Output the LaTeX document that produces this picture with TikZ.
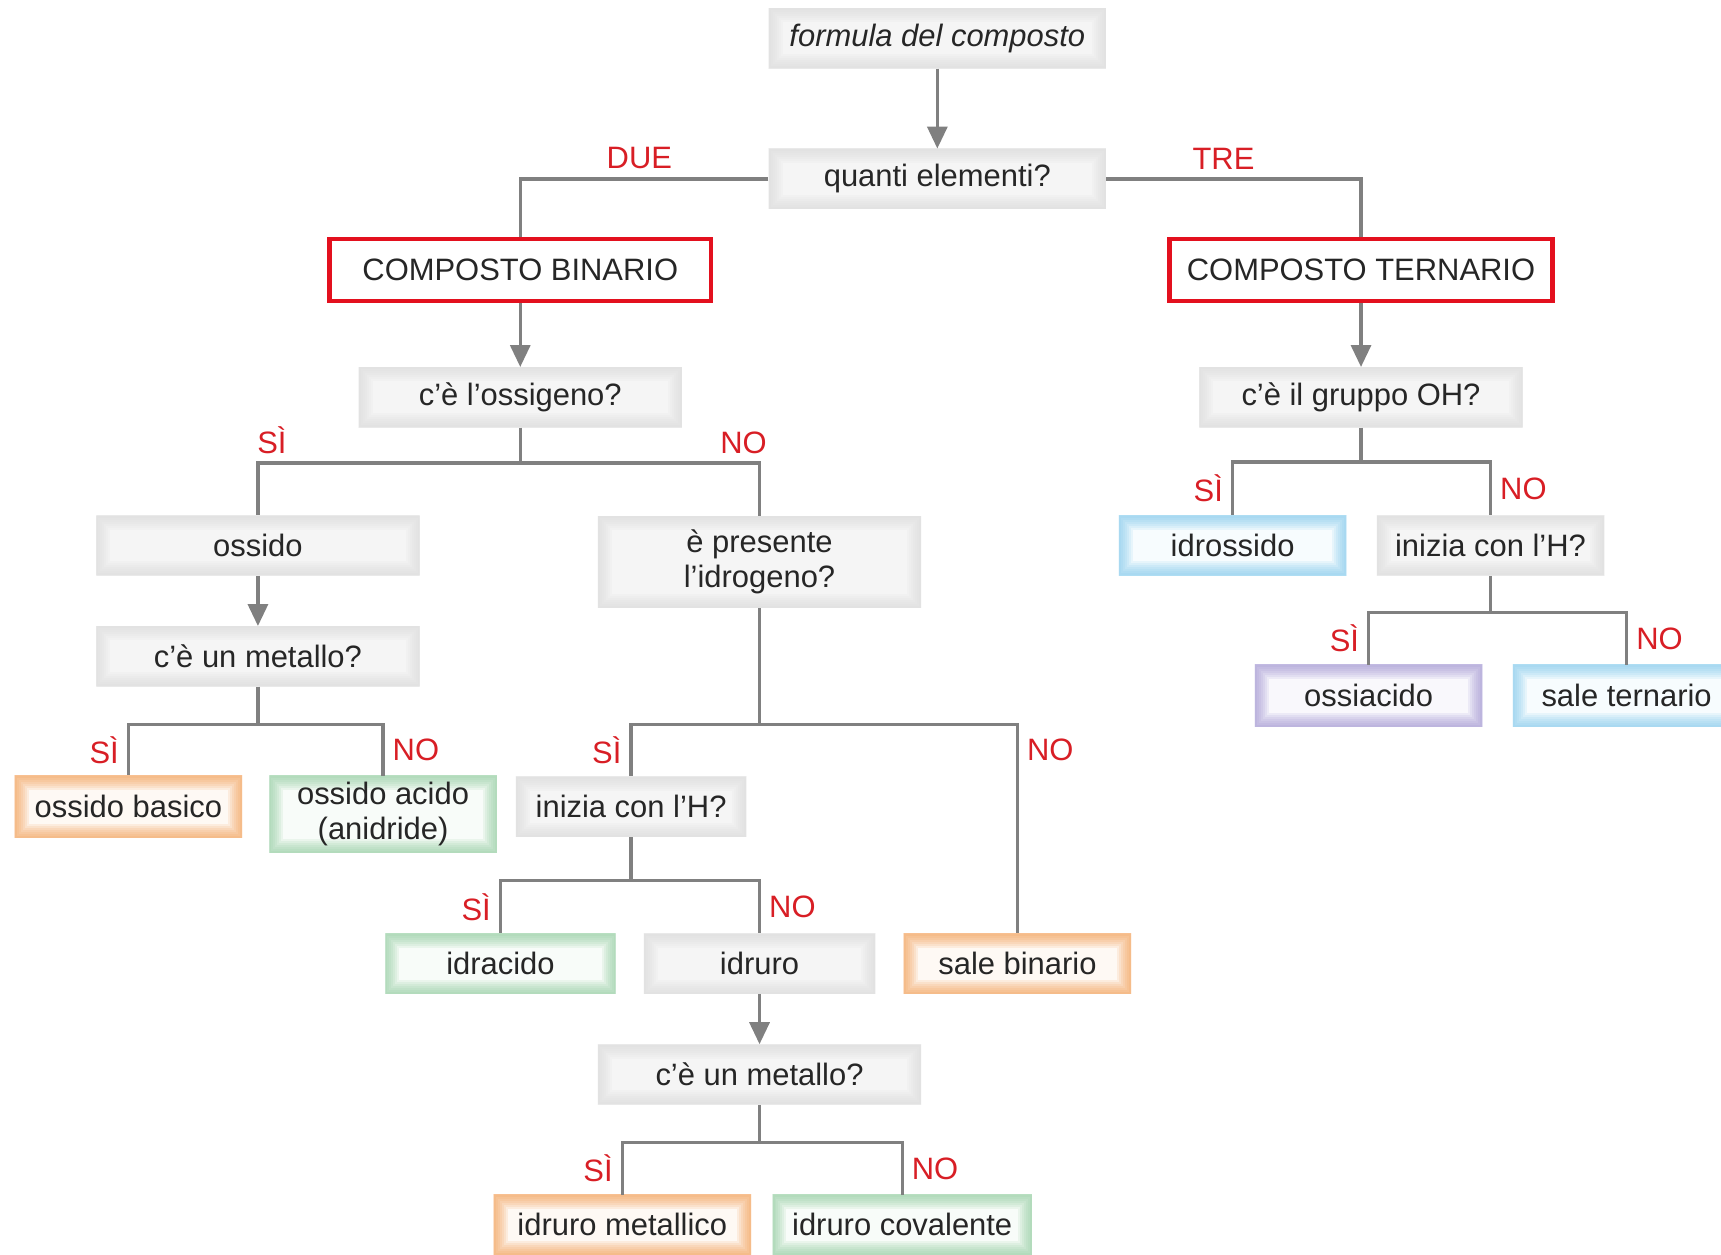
\documentclass[tikz,border=0pt]{standalone}
\usepackage{fontspec}
\setmainfont{Liberation Sans}
\usetikzlibrary{arrows.meta}

\definecolor{redline}{HTML}{E3101E}
\definecolor{labelred}{HTML}{D81E25}
\definecolor{linkgray}{HTML}{808080}
\definecolor{ink}{HTML}{262626}
\definecolor{boxorange}{HTML}{F39A4E}
\definecolor{boxgreen}{HTML}{8CCB9B}
\definecolor{boxblue}{HTML}{7CC8EC}
\definecolor{boxviolet}{HTML}{9C90D0}

\begin{document}
\begin{tikzpicture}[x=0.55pt, y=-0.55pt,
  box/.style={rectangle, minimum width=114pt, minimum height=30pt, inner sep=1pt,
    align=center, text=ink, font=\fontsize{15.5}{17.5}\selectfont},
  wide/.style={box, minimum width=162pt},
  glow/.style={path picture={
    \foreach \w in {2,4,6,8,10,12,14}
      \draw [#1, opacity=0.13, line width=\w pt] (path picture bounding box.south west)
        rectangle (path picture bounding box.north east);}},
  ask/.style={fill=black!4, glow=black!14},
  redbox/.style={box, draw=redline, line width=2.2pt, fill=white, minimum height=31pt},
  orangebox/.style={box, fill=boxorange!6, glow=boxorange},
  greenbox/.style={box, fill=boxgreen!6, glow=boxgreen},
  bluebox/.style={box, fill=boxblue!6, glow=boxblue},
  violetbox/.style={box, fill=boxviolet!6, glow=boxviolet},
  link/.style={draw=linkgray, line width=1.7pt},
  arrow/.style={link, -{Triangle[length=11pt, width=10pt]}},
  answer/.style={text=labelred, font=\fontsize{15.5}{17}\selectfont, inner sep=4pt},
  siword/.style={answer, pos=0.75, left},
  noword/.style={answer, pos=0.75, right}]

\useasboundingbox (0,0) rectangle (1568,1143);

% domande e risposte
\node [wide, ask, minimum width=169pt, font=\fontsize{15.5}{17.5}\selectfont\itshape] (formula) at (854,35) {formula del composto};
\node [wide, ask, minimum width=169pt] (quanti) at (854,163) {quanti elementi?};
\node [redbox, minimum width=191pt] (binario) at (474,246) {COMPOSTO BINARIO};
\node [redbox, minimum width=192pt] (ternario) at (1240,246) {COMPOSTO TERNARIO};
\node [wide, ask] (ossigeno) at (474,362) {c’è l’ossigeno?};
\node [wide, ask] (gruppo) at (1240,362) {c’è il gruppo OH?};
\node [wide, ask] (ossido) at (235,497) {ossido};
\node [wide, ask] (metalloA) at (235,598) {c’è un metallo?};
\node [wide, ask, minimum height=46pt] (presente) at (692,512) {è presente\\l’idrogeno?};
\node [orangebox, minimum height=31pt] (basico) at (117,735) {ossido basico};
\node [greenbox, minimum height=38.5pt] (acido) at (349,742) {ossido acido\\(anidride)};
\node [box, ask, minimum width=115.5pt] (iniziaA) at (575,735) {inizia con l’H?};
\node [greenbox, minimum width=115.5pt] (idracido) at (456,878) {idracido};
\node [box, ask, minimum width=116pt] (idruro) at (692,878) {idruro};
\node [orangebox] (salebin) at (927,878) {sale binario};
\node [wide, ask] (metalloB) at (692,979) {c’è un metallo?};
\node [orangebox, minimum width=129pt] (metallico) at (567,1116) {idruro metallico};
\node [greenbox, minimum width=130pt] (covalente) at (822,1116) {idruro covalente};
\node [bluebox] (idrossido) at (1123,497) {idrossido};
\node [box, ask] (iniziaB) at (1358,497) {inizia con l’H?};
\node [violetbox, minimum height=31pt] (ossiacido) at (1247,634) {ossiacido};
\node [bluebox, minimum height=31pt] (saleter) at (1482,634) {sale ternario};

% punti di diramazione
\coordinate (f1) at (474,422);
\coordinate (f2) at (235,660);
\coordinate (f3) at (692,660);
\coordinate (f4) at (575,802);
\coordinate (f5) at (692,1041);
\coordinate (f6) at (1240,421);
\coordinate (f7) at (1358,558);

\draw [arrow] (formula) -- (quanti);
\draw [link] (quanti.west) -| node [answer, pos=0.26, above] {DUE} (binario.north);
\draw [link] (quanti.east) -| node [answer, pos=0.23, above] {TRE} (ternario.north);
\draw [arrow] (binario) -- (ossigeno);
\draw [arrow] (ternario) -- (gruppo);

\draw [link] (ossigeno) -- (f1);
\draw [link] (f1) -| node [answer, pos=0.5, above, xshift=7pt] {SÌ} (ossido.north);
\draw [link] (f1) -| node [answer, pos=0.5, above, xshift=-8pt] {NO} (presente.north);
\draw [arrow] (ossido) -- (metalloA);

\draw [link] (metalloA) -- (f2);
\draw [link] (f2) -| node [siword] {SÌ} (basico.north);
\draw [link] (f2) -| node [noword] {NO} (acido.north);

\draw [link] (presente) -- (f3);
\draw [link] (f3) -| node [siword] {SÌ} (iniziaA.north);
\draw [link] (f3) -| node [noword, pos=0.56] {NO} (salebin.north);

\draw [link] (iniziaA) -- (f4);
\draw [link] (f4) -| node [siword] {SÌ} (idracido.north);
\draw [link] (f4) -| node [noword] {NO} (idruro.north);
\draw [arrow] (idruro) -- (metalloB);

\draw [link] (metalloB) -- (f5);
\draw [link] (f5) -| node [siword] {SÌ} (metallico.north);
\draw [link] (f5) -| node [noword] {NO} (covalente.north);

\draw [link] (gruppo) -- (f6);
\draw [link] (f6) -| node [siword] {SÌ} (idrossido.north);
\draw [link] (f6) -| node [noword] {NO} (iniziaB.north);

\draw [link] (iniziaB) -- (f7);
\draw [link] (f7) -| node [siword] {SÌ} (ossiacido.north);
\draw [link] (f7) -| node [noword] {NO} (saleter.north);

\end{tikzpicture}
\end{document}
